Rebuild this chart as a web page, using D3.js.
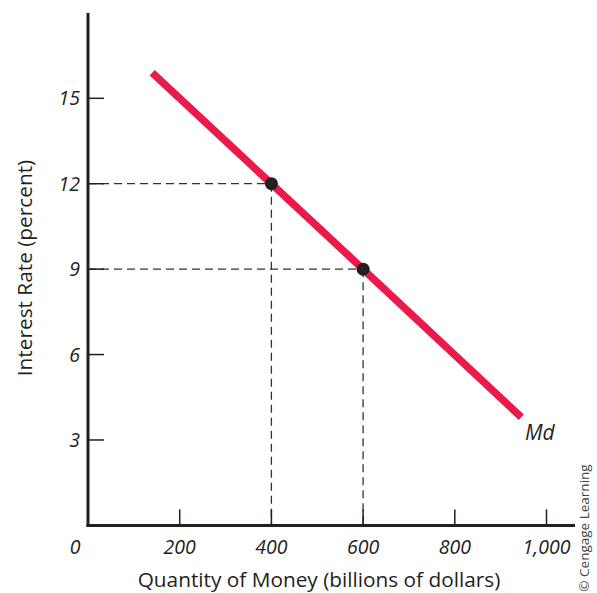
<!DOCTYPE html>
<html><head><meta charset="utf-8">
<script src="https://cdn.jsdelivr.net/npm/d3@7"></script>
<style>body{margin:0;background:#fff}text{font-family:"Open Sans","DejaVu Sans",sans-serif;fill:#231f20}</style>
</head><body><svg id="c" width="597" height="593"></svg>
<script>
const xTicks = [200, 400, 600, 800, 1000];
const xTickLabels = ["200", "400", "600", "800", "1,000"];
const yTicks = [3, 6, 9, 12, 15];
const yTickLabels = ["3", "6", "9", "12", "15"];
const curveQ = [140, 400, 600, 945];
const curveR = [15.9, 12, 9, 3.8];
const pointQ = [400, 600];
const pointR = [12, 9];

const svg = d3.select("#c");
const x = d3.scaleLinear().domain([0, 1000]).range([88, 546.5]);
const y = d3.scaleLinear().domain([0, 15]).range([525.4, 98.3]);
const ink = "#231f20";

// dashed guides
pointQ.forEach((q, i) => {
  svg.append("line").attr("x1", x(0)).attr("x2", x(q)).attr("y1", y(pointR[i])).attr("y2", y(pointR[i]))
    .attr("stroke", "#333").attr("stroke-width", 1.3).attr("stroke-dasharray", "8,5");
  svg.append("line").attr("x1", x(q)).attr("x2", x(q)).attr("y1", y(pointR[i])).attr("y2", y(0))
    .attr("stroke", "#333").attr("stroke-width", 1.3).attr("stroke-dasharray", "8,5");
});

// axes
svg.append("line").attr("x1", x(0)).attr("x2", x(0)).attr("y1", 13).attr("y2", y(0) + 1.5)
  .attr("stroke", ink).attr("stroke-width", 3);
svg.append("line").attr("x1", x(0) - 1.5).attr("x2", 575).attr("y1", y(0)).attr("y2", y(0))
  .attr("stroke", ink).attr("stroke-width", 3);

// y ticks
yTicks.forEach((t, i) => {
  svg.append("line").attr("x1", x(0)).attr("x2", x(0) + 16).attr("y1", y(t)).attr("y2", y(t))
    .attr("stroke", ink).attr("stroke-width", 1.5);
  svg.append("text").attr("x", 80).attr("y", y(t) + 7).attr("text-anchor", "end")
    .attr("font-size", 19.5).attr("font-style", "italic").text(yTickLabels[i]);
});
// x ticks
xTicks.forEach((t, i) => {
  svg.append("line").attr("x1", x(t)).attr("x2", x(t)).attr("y1", y(0)).attr("y2", y(0) - 16)
    .attr("stroke", ink).attr("stroke-width", 1.5);
  svg.append("text").attr("x", x(t)).attr("y", 554).attr("text-anchor", "middle")
    .attr("font-size", 19.5).attr("font-style", "italic").text(xTickLabels[i]);
});
svg.append("text").attr("x", 75).attr("y", 554).attr("text-anchor", "middle")
  .attr("font-size", 19.5).attr("font-style", "italic").text("0");

// curve
const line = d3.line().x(d => x(d[0])).y(d => y(d[1]));
svg.append("path").datum(curveQ.map((q, i) => [q, curveR[i]])).attr("d", line)
  .attr("fill", "none").attr("stroke", "#ea1b4b").attr("stroke-width", 7.5);

// points
pointQ.forEach((q, i) => {
  svg.append("circle").attr("cx", x(q)).attr("cy", y(pointR[i])).attr("r", 6.5).attr("fill", ink);
});

svg.append("text").attr("x", 525).attr("y", 440).attr("font-size", 21).attr("font-style", "italic").text("Md");

// axis titles
svg.append("text").attr("x", 319).attr("y", 587).attr("text-anchor", "middle").attr("font-size", 20.8)
  .text("Quantity of Money (billions of dollars)");
svg.append("text").attr("transform", "translate(32,268) rotate(-90)").attr("text-anchor", "middle")
  .attr("font-size", 20.8).text("Interest Rate (percent)");
svg.append("text").attr("transform", "translate(589,528) rotate(-90)").attr("text-anchor", "middle")
  .attr("font-size", 13.5).attr("font-family", "Liberation Sans Narrow, Roboto Condensed, sans-serif")
  .style("fill", "#444").text("© Cengage Learning");
</script></body></html>
